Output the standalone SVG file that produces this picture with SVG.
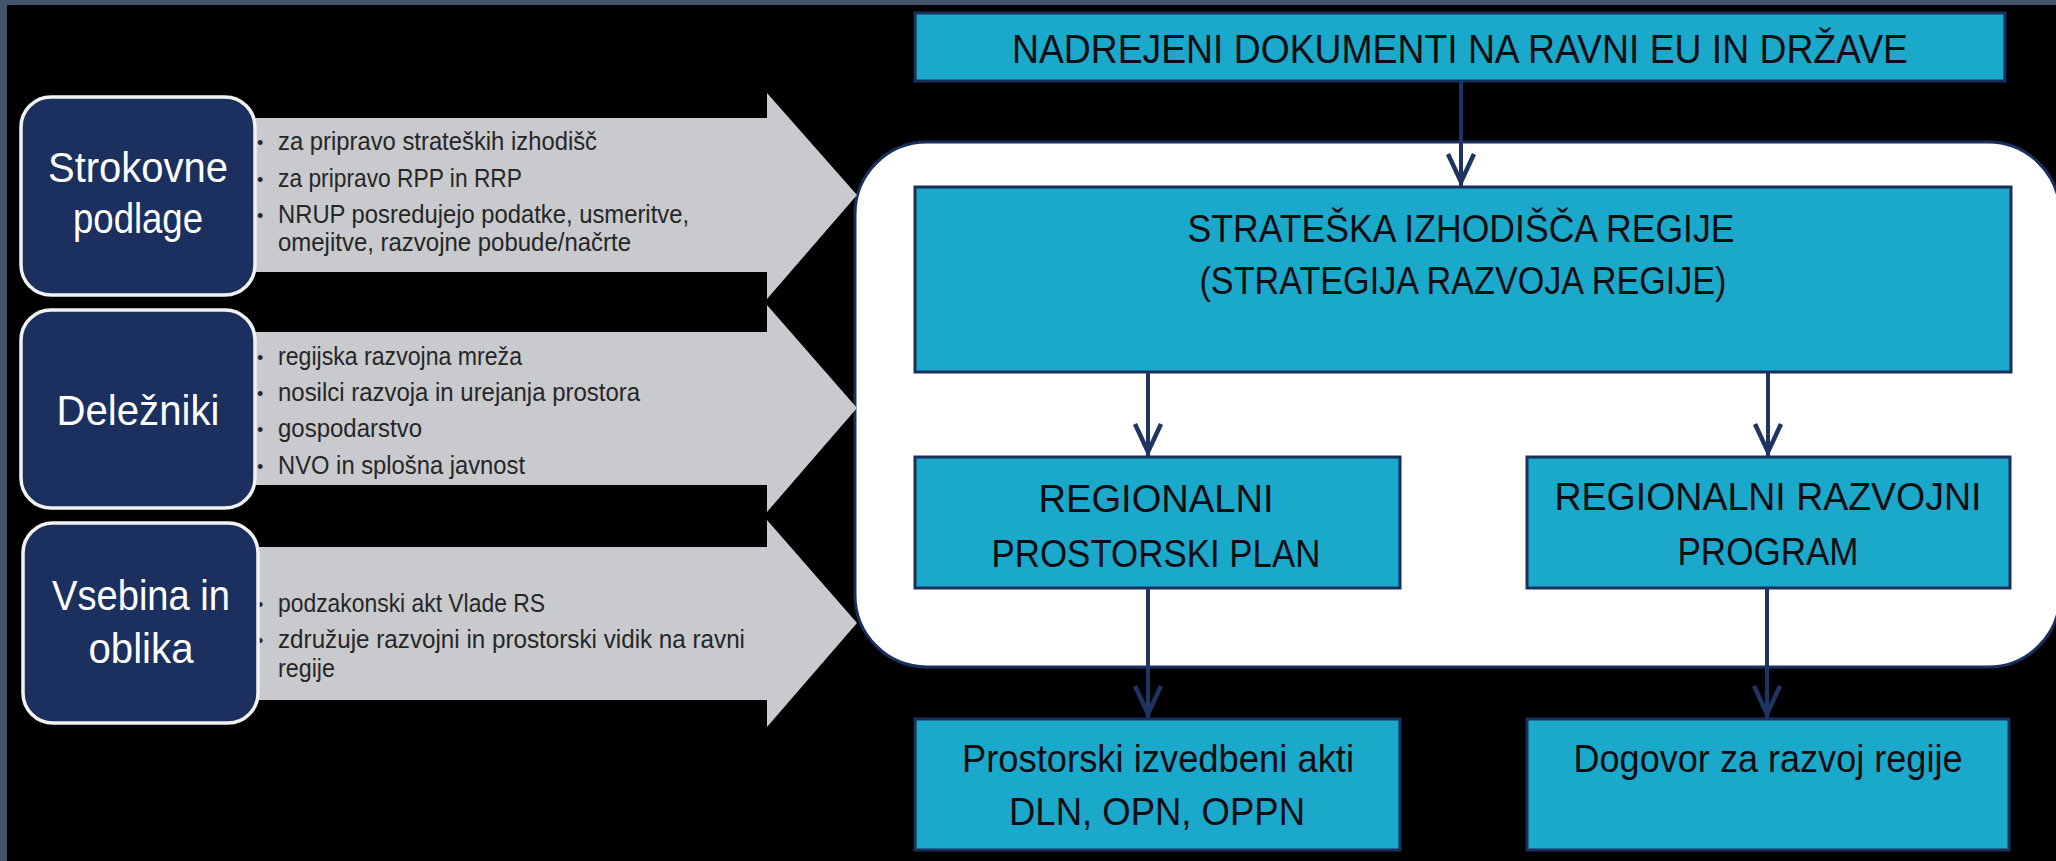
<svg xmlns="http://www.w3.org/2000/svg" width="2056" height="861" viewBox="0 0 2056 861">
<defs>
<style>
.bg{fill:#000}
.strip{fill:#44546a}
.cat rect{fill:#1b305f;stroke:#f2f2f2;stroke-width:3.5}
.cat .lbl{fill:#fff;font-family:"Liberation Sans",Arial,sans-serif;font-size:42px;text-anchor:middle}
.band{fill:#c9cacd}
.bul{fill:#262626;font-family:"Liberation Sans",Arial,sans-serif;font-size:25px}
.dot{fill:#262626;font-family:"Liberation Sans",Arial,sans-serif;font-size:18px}
.box rect{fill:#1aa9cb;stroke:#1b2f5c;stroke-width:3}
.box text{fill:#0d0d12;font-family:"Liberation Sans",Arial,sans-serif;font-size:39px;text-anchor:middle}
.panel{fill:#fff;stroke:#1b2f5c;stroke-width:3}
.conn path{stroke:#1f3462;stroke-width:4;fill:none;marker-end:url(#ah)}
</style>
<marker id="ah" markerUnits="userSpaceOnUse" viewBox="-36 -16 40 32" markerWidth="40" markerHeight="32" refX="0" refY="0" orient="auto">
<path d="M-33,-13 L-5,0 L-33,13" fill="none" stroke="#1f3462" stroke-width="4.5" stroke-linejoin="miter"/>
</marker>
</defs>

<rect class="bg" x="0" y="0" width="2056" height="861"/>
<rect class="strip" x="0" y="0" width="2056" height="5"/>
<rect class="strip" x="0" y="0" width="7" height="861"/>

<rect id="panel" class="panel" x="855" y="142" width="1205" height="525" rx="72" ry="72"/>

<g id="strokovne" class="cat">
<polygon class="band" points="200,118 767,118 767,93 857,195 767,299 767,272 200,272"/>
<text class="dot" x="257" y="149">•</text>
<text class="bul" x="278" y="150" textLength="319" lengthAdjust="spacingAndGlyphs">za pripravo strateških izhodišč</text>
<text class="dot" x="257" y="186">•</text>
<text class="bul" x="278" y="187" textLength="244" lengthAdjust="spacingAndGlyphs">za pripravo RPP in RRP</text>
<text class="dot" x="257" y="222">•</text>
<text class="bul" x="278" y="223" textLength="411" lengthAdjust="spacingAndGlyphs">NRUP posredujejo podatke, usmeritve,</text>
<text class="bul" x="278" y="251" textLength="353" lengthAdjust="spacingAndGlyphs">omejitve, razvojne pobude/načrte</text>
<rect x="21" y="97" width="234" height="198" rx="30" ry="30"/>
<text class="lbl" x="138" y="182" textLength="180" lengthAdjust="spacingAndGlyphs">Strokovne</text>
<text class="lbl" x="138" y="233" textLength="130" lengthAdjust="spacingAndGlyphs">podlage</text>
</g>

<g id="delezniki" class="cat">
<polygon class="band" points="200,332 767,332 767,305 857,408 767,512 767,485 200,485"/>
<text class="dot" x="257" y="364">•</text>
<text class="bul" x="278" y="365" textLength="244" lengthAdjust="spacingAndGlyphs">regijska razvojna mreža</text>
<text class="dot" x="257" y="400">•</text>
<text class="bul" x="278" y="401" textLength="362" lengthAdjust="spacingAndGlyphs">nosilci razvoja in urejanja prostora</text>
<text class="dot" x="257" y="436">•</text>
<text class="bul" x="278" y="437" textLength="144" lengthAdjust="spacingAndGlyphs">gospodarstvo</text>
<text class="dot" x="257" y="473">•</text>
<text class="bul" x="278" y="474" textLength="247" lengthAdjust="spacingAndGlyphs">NVO in splošna javnost</text>
<rect x="21" y="310" width="234" height="198" rx="30" ry="30"/>
<text class="lbl" x="138" y="425" textLength="163" lengthAdjust="spacingAndGlyphs">Deležniki</text>
</g>

<g id="vsebina" class="cat">
<polygon class="band" points="200,547 767,547 767,520 857,623 767,727 767,700 200,700"/>
<text class="dot" x="257" y="611">•</text>
<text class="bul" x="278" y="612" textLength="267" lengthAdjust="spacingAndGlyphs">podzakonski akt Vlade RS</text>
<text class="dot" x="257" y="647">•</text>
<text class="bul" x="278" y="648" textLength="467" lengthAdjust="spacingAndGlyphs">združuje razvojni in prostorski vidik na ravni</text>
<text class="bul" x="278" y="677" textLength="57" lengthAdjust="spacingAndGlyphs">regije</text>
<rect x="23" y="523" width="235" height="200" rx="30" ry="30"/>
<text class="lbl" x="141" y="610" textLength="178" lengthAdjust="spacingAndGlyphs">Vsebina in</text>
<text class="lbl" x="141" y="663" textLength="105" lengthAdjust="spacingAndGlyphs">oblika</text>
</g>

<g id="nadrejeni" class="box">
<rect x="915" y="13" width="1090" height="68"/>
<text x="1460" y="63" style="font-size:41px" textLength="896" lengthAdjust="spacingAndGlyphs">NADREJENI DOKUMENTI NA RAVNI EU IN DRŽAVE</text>
</g>

<g id="strateska" class="box">
<rect x="915" y="187" width="1096" height="185"/>
<text x="1461" y="242" textLength="547" lengthAdjust="spacingAndGlyphs">STRATEŠKA IZHODIŠČA REGIJE</text>
<text x="1463" y="294" textLength="527" lengthAdjust="spacingAndGlyphs">(STRATEGIJA RAZVOJA REGIJE)</text>
</g>

<g id="rpp" class="box">
<rect x="915" y="457" width="485" height="131"/>
<text x="1156" y="512" textLength="235" lengthAdjust="spacingAndGlyphs">REGIONALNI</text>
<text x="1156" y="567" textLength="329" lengthAdjust="spacingAndGlyphs">PROSTORSKI PLAN</text>
</g>

<g id="rrp" class="box">
<rect x="1527" y="457" width="483" height="131"/>
<text x="1768" y="510" textLength="427" lengthAdjust="spacingAndGlyphs">REGIONALNI RAZVOJNI</text>
<text x="1768" y="565" textLength="181" lengthAdjust="spacingAndGlyphs">PROGRAM</text>
</g>

<g id="izvedbeni" class="box">
<rect x="915" y="719" width="485" height="131"/>
<text x="1158" y="772" textLength="392" lengthAdjust="spacingAndGlyphs">Prostorski izvedbeni akti</text>
<text x="1157" y="825" textLength="296" lengthAdjust="spacingAndGlyphs">DLN, OPN, OPPN</text>
</g>

<g id="dogovor" class="box">
<rect x="1527" y="719" width="482" height="131"/>
<text x="1768" y="772" textLength="389" lengthAdjust="spacingAndGlyphs">Dogovor za razvoj regije</text>
</g>

<g id="connectors" class="conn">
<path d="M1461,81 V187"/>
<path d="M1148,372 V457"/>
<path d="M1768,372 V457"/>
<path d="M1148,588 V719"/>
<path d="M1767,588 V719"/>
</g>
</svg>
